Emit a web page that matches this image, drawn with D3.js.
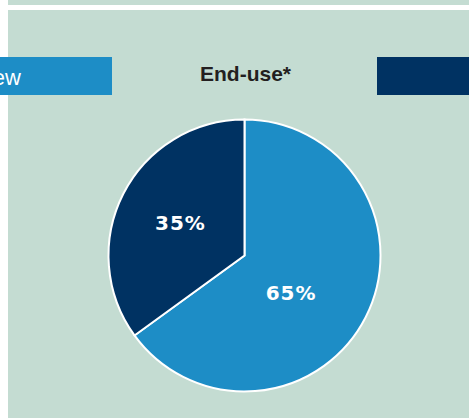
<!DOCTYPE html>
<html>
<head>
<meta charset="utf-8">
<script src="https://cdn.jsdelivr.net/npm/d3@7"></script>
<style>
  body { margin: 0; background: #fff; }
  svg { display: block; font-family: "Liberation Sans", Arial, sans-serif; }
</style>
</head>
<body>
<svg class="chart"></svg>
<script>
const categories = ['New', 'Other']
const shares = [65, 35]
const shareLabels = ['65%', '35%']
const title = 'End-use*'

const width = 469, height = 418
const colors = ['#1d8dc6', '#003262']

const svg = d3.select('.chart')
  .attr('width', width)
  .attr('height', height)

// green panel + thin strip at top
svg.append('rect').attr('x', 8).attr('y', 0).attr('width', width - 8).attr('height', 5).attr('fill', '#c4dcd2')
svg.append('rect').attr('x', 8).attr('y', 10).attr('width', width - 8).attr('height', height - 10).attr('fill', '#c4dcd2')

// legend tabs (cut by the frame, as in the original)
svg.append('rect').attr('x', 0).attr('y', 57).attr('width', 112).attr('height', 38).attr('fill', colors[0])
svg.append('text')
  .attr('x', 21).attr('y', 85)
  .attr('text-anchor', 'end')
  .attr('fill', '#fff')
  .style('font-size', '22px')
  .text(categories[0])

svg.append('rect').attr('x', 377).attr('y', 57).attr('width', width - 377).attr('height', 38).attr('fill', colors[1])

svg.append('text')
  .attr('x', 245.5).attr('y', 81)
  .attr('text-anchor', 'middle')
  .attr('fill', '#231f20')
  .style('font-size', '21px')
  .style('font-weight', 'bold')
  .text(title)

const radius = 136
const pie = d3.pie().sort(null).value(d => d)
const arc = d3.arc().innerRadius(0).outerRadius(radius)
const labelArc = d3.arc().innerRadius(0).outerRadius(145)

const g = svg.append('g')
  .attr('transform', 'translate(244.5, 255.5)')

const slices = g.selectAll('g')
  .data(pie(shares))
  .enter()
  .append('g')

slices.append('path')
  .attr('d', arc)
  .attr('fill', (d, i) => colors[i])
  .attr('stroke', '#fff')
  .attr('stroke-width', 2)

// the big slice label sits a bit lower/left than its centroid
const nudge = [[-18, 4], [0.5, 0]]

slices.append('text')
  .attr('transform', (d, i) => {
    const c = labelArc.centroid(d)
    return `translate(${c[0] + nudge[i][0]}, ${c[1] + nudge[i][1]})`
  })
  .attr('text-anchor', 'middle')
  .attr('dy', '0.36em')
  .attr('fill', '#fff')
  .style('font-family', '"DejaVu Sans", sans-serif')
  .style('font-size', '20px')
  .style('font-weight', 'bold')
  .style('letter-spacing', '1px')
  .text((d, i) => shareLabels[i])
</script>
</body>
</html>
